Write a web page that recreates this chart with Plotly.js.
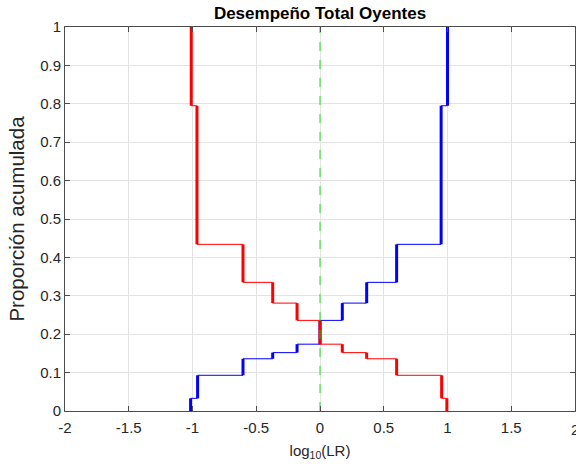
<!DOCTYPE html>
<html><head><meta charset="utf-8">
<script src="https://cdn.plot.ly/plotly-3.0.1.min.js"></script>
<style>html,body{margin:0;padding:0;background:#fff}#chart{width:576px;height:464px}</style>
</head><body><div id="chart"></div>
<script>
// Step positions (log10 LR) and cumulative proportion levels
const redX = [-1.01, -0.965, -0.604, -0.371, -0.18, 0.0, 0.175, 0.366, 0.601, 0.954, 0.995];
const redY = [1.0, 0.795, 0.434, 0.335, 0.281, 0.236, 0.174, 0.152, 0.136, 0.093, 0.033, 0.0];
const blueX = [-1.015, -0.96, -0.604, -0.371, -0.18, 0.0, 0.175, 0.366, 0.601, 0.95, 1.0];
const blueY = [0.0, 0.033, 0.093, 0.136, 0.152, 0.174, 0.236, 0.281, 0.335, 0.434, 0.795, 1.0];
const xTicks = [-2, -1.5, -1, -0.5, 0, 0.5, 1, 1.5, 2];
const yTicks = [0, 0.1, 0.2, 0.3, 0.4, 0.5, 0.6, 0.7, 0.8, 0.9, 1];

function segs(X, Y) {
  const vx = [], vy = [], hx = [], hy = [];
  for (let i = 0; i < X.length; i++) {
    vx.push(X[i], X[i], null); vy.push(Y[i], Y[i + 1], null);
    if (i < X.length - 1) { hx.push(X[i], X[i + 1], null); hy.push(Y[i + 1], Y[i + 1], null); }
  }
  return {vx, vy, hx, hy};
}
const r = segs(redX, redY), b = segs(blueX, blueY);
const FONT = 'Liberation Sans, Arial, sans-serif';
const traces = [
  {x: b.hx, y: b.hy, mode: 'lines', line: {color: '#0000ff', width: 1}, hoverinfo: 'skip'},
  {x: b.vx, y: b.vy, mode: 'lines', line: {color: '#0000ff', width: 3}, hoverinfo: 'skip'},
  {x: r.hx, y: r.hy, mode: 'lines', line: {color: '#ff0000', width: 1}, hoverinfo: 'skip'},
  {x: r.vx, y: r.vy, mode: 'lines', line: {color: '#ff0000', width: 3}, hoverinfo: 'skip'},
  {x: [0, 0], y: [0, 1], mode: 'lines', line: {color: 'rgba(0,225,0,0.6)', width: 1.5, dash: 'dash'}, hoverinfo: 'skip'}
];
const axisCommon = {
  showline: true, linecolor: '#4d4d4d', linewidth: 1, mirror: 'ticks',
  ticks: 'inside', ticklen: 5, tickcolor: '#4d4d4d',
  showgrid: true, gridcolor: '#e3e3e3', gridwidth: 1, zeroline: false,
  tickfont: {family: FONT, size: 15, color: '#262626'}
};
const layout = {
  width: 576, height: 464,
  margin: {l: 65, r: 1, t: 27, b: 53},
  paper_bgcolor: '#ffffff', plot_bgcolor: '#ffffff',
  showlegend: false,
  title: {text: '<b>Desempeño Total Oyentes</b>', x: 0.5, xref: 'paper', xanchor: 'center', y: 0.971, yanchor: 'middle',
    font: {family: FONT, size: 17, color: '#000'}},
  xaxis: Object.assign({}, axisCommon, {range: [-2, 2], tickvals: xTicks.slice(0, -1), ticktext: xTicks.slice(0, -1).map(String),
    ticklabelstandoff: 3,
    title: {text: 'log<sub>10</sub>(LR)', standoff: 10, font: {family: FONT, size: 15, color: '#262626'}}}),
  yaxis: Object.assign({}, axisCommon, {range: [0, 1], tickvals: yTicks, ticktext: yTicks.map(String),
    title: {text: 'Proporción acumulada', standoff: 9, font: {family: FONT, size: 20.5, color: '#262626'}}}),
  annotations: [{x: xTicks[xTicks.length - 1], xref: 'x', y: 0, yref: 'paper', yshift: -8, yanchor: 'top', xanchor: 'center',
    text: String(xTicks[xTicks.length - 1]), showarrow: false, font: {family: FONT, size: 15, color: '#262626'}}]
};
Plotly.newPlot('chart', traces, layout, {displayModeBar: false, staticPlot: true});
</script></body></html>
